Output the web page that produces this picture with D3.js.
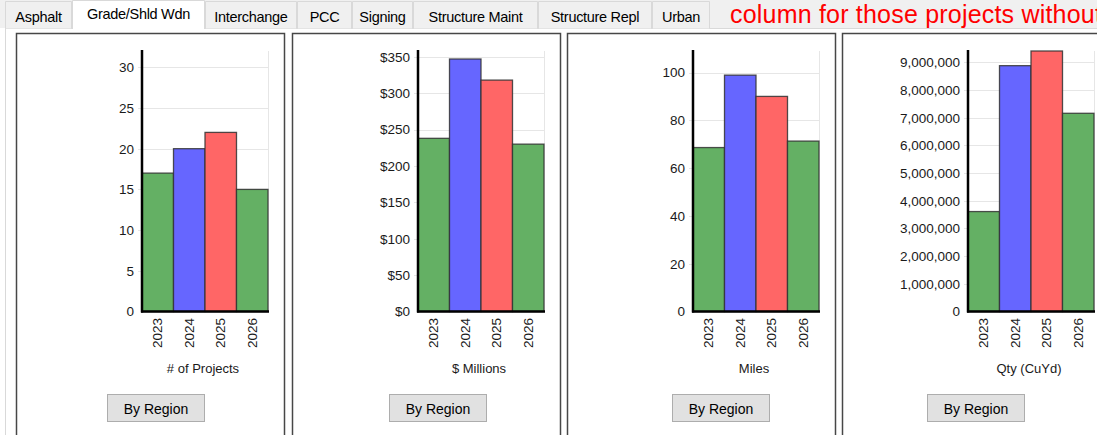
<!DOCTYPE html>
<html>
<head>
<meta charset="utf-8">
<script src="https://cdn.jsdelivr.net/npm/d3@7"></script>
<style>
  body { margin: 0; background: #fff; overflow: hidden; }
  text { font-family: "Liberation Sans", Arial, sans-serif; }
</style>
</head>
<body>
<div id="chart"></div>
<script>
// tabs along the top
const tabNames = ["Asphalt", "Grade/Shld Wdn", "Interchange", "PCC", "Signing", "Structure Maint", "Structure Repl", "Urban"];
const tabEdges = [5, 72, 205, 297, 352, 413, 538, 652, 710];
const selectedTab = 1;
const noteText = "column for those projects without";

// chart data
const years = ["2023", "2024", "2025", "2026"];
const yearColors = ["#64b064", "#6666ff", "#ff6666", "#64b064"];
const projectCounts = [17, 20, 22, 15];
const dollarMillions = [238, 347, 318, 230];
const miles = [68.6, 98.9, 90, 71.3];
const qtyCuYd = [3610000, 8880000, 9410000, 7160000];

const axisTitles = ["# of Projects", "$ Millions", "Miles", "Qty (CuYd)"];
const yMaxes = [32, 358, 109, 9410000];
const tickSteps = [5, 50, 20, 1000000];
const tickFormats = [d3.format("d"), d => "$" + d, d3.format("d"), d3.format(",")];
const seriesList = [projectCounts, dollarMillions, miles, qtyCuYd];

const width = 1097, height = 435;

const svg = d3.select("#chart").append("svg")
    .attr("width", width)
    .attr("height", height);

// tab strip background
svg.append("rect")
    .attr("width", width).attr("height", 28)
    .attr("fill", "#f0f0f0");

// tab page
svg.append("rect")
    .attr("x", 5.5).attr("y", 28.5)
    .attr("width", width).attr("height", height)
    .attr("fill", "#fff")
    .attr("stroke", "#d9d9d9");

// tabs
tabNames.forEach((name, i) => {
    const x0 = tabEdges[i], x1 = tabEdges[i + 1];
    const sel = i === selectedTab;
    const g = svg.append("g");
    g.append("path")
        .attr("d", sel
            ? `M${x0 + 0.5},29 V0.5 H${x1 - 0.5} V29`
            : `M${x0 + 0.5},28.5 V1.5 H${x1 - 0.5} V28.5`)
        .attr("fill", sel ? "#fff" : "#f0f0f0")
        .attr("stroke", "#d9d9d9");
    g.append("text")
        .attr("x", (x0 + x1) / 2)
        .attr("y", sel ? 14 : 16.5)
        .attr("text-anchor", "middle")
        .attr("dominant-baseline", "central")
        .attr("font-family", "'Open Sans', sans-serif")
        .attr("font-size", 14.5)
        .attr("letter-spacing", -0.3)
        .attr("fill", "#000")
        .text(name);
});

svg.append("text")
    .attr("x", 730).attr("y", 23)
    .attr("font-family", "'Open Sans', sans-serif")
    .attr("font-size", 25)
    .attr("letter-spacing", 0.2)
    .attr("fill", "#ff0000")
    .text(noteText);

// panels
const panelLefts = [16, 292, 567, 842];
const panelWidth = 268;
const panelTop = 33.5;
const plotOffset = 126, plotWidth = 126;
const plotTop = 51, plotBottom = 311.5;
const buttonOffsets = [91, 97, 105, 85];

seriesList.forEach((values, i) => {
    const px = panelLefts[i];
    const g = svg.append("g");

    g.append("rect")
        .attr("x", px + 0.5).attr("y", panelTop)
        .attr("width", panelWidth).attr("height", 420)
        .attr("fill", "#fff")
        .attr("stroke", "#474747")
        .attr("stroke-width", 1.5);

    const x0 = px + plotOffset;
    const x = d3.scaleBand()
        .domain(years)
        .range([x0, x0 + plotWidth])
        .padding(0);

    const y = d3.scaleLinear()
        .domain([0, yMaxes[i]])
        .range([plotBottom, plotTop]);

    const ticks = d3.range(0, yMaxes[i] + 1e-9, tickSteps[i]);

    // grid
    g.selectAll(".grid")
        .data(ticks.slice(1))
        .join("line")
        .attr("x1", x0 - 4).attr("x2", x0 + plotWidth)
        .attr("y1", d => Math.round(y(d)) + 0.5)
        .attr("y2", d => Math.round(y(d)) + 0.5)
        .attr("stroke", "#e6e6e6");

    g.append("line")
        .attr("x1", x0 + plotWidth + 0.5).attr("x2", x0 + plotWidth + 0.5)
        .attr("y1", plotTop).attr("y2", plotBottom)
        .attr("stroke", "#e6e6e6");

    // bars
    g.selectAll(".bar")
        .data(values)
        .join("rect")
        .attr("x", (d, j) => x(years[j]))
        .attr("y", d => y(d))
        .attr("width", x.bandwidth())
        .attr("height", d => plotBottom - y(d))
        .attr("fill", (d, j) => yearColors[j])
        .attr("stroke", "#333")
        .attr("stroke-opacity", 0.85)
        .attr("stroke-width", 1.3);

    // y axis
    const yAxis = d3.axisLeft(y)
        .tickValues(ticks)
        .tickFormat(tickFormats[i])
        .tickSize(0)
        .tickPadding(8);

    const ya = g.append("g")
        .attr("transform", `translate(${x0},0)`)
        .call(yAxis);
    ya.select(".domain").remove();
    ya.selectAll("text")
        .attr("font-size", 13.5)
        .attr("fill", "#1a1a1a")
        .style("font-family", "'Liberation Sans', Arial, sans-serif");

    // x axis labels (rotated)
    g.selectAll(".xl")
        .data(years)
        .join("text")
        .attr("transform", d => `translate(${x(d) + x.bandwidth() / 2},318) rotate(-90)`)
        .attr("text-anchor", "end")
        .attr("dominant-baseline", "central")
        .attr("font-size", 13.5)
        .attr("fill", "#1a1a1a")
        .text(d => d);

    // axis lines
    g.append("line")
        .attr("x1", x0).attr("x2", x0)
        .attr("y1", plotTop - 1).attr("y2", plotBottom + 1)
        .attr("stroke", "#000").attr("stroke-width", 2.5);
    g.append("line")
        .attr("x1", x0 - 1).attr("x2", x0 + plotWidth + 1)
        .attr("y1", plotBottom).attr("y2", plotBottom)
        .attr("stroke", "#000").attr("stroke-width", 2.5);

    g.append("text")
        .attr("x", x0 + plotWidth / 2 - 2)
        .attr("y", 368)
        .attr("text-anchor", "middle")
        .attr("dominant-baseline", "central")
        .attr("font-size", 13)
        .attr("fill", "#1a1a1a")
        .text(axisTitles[i]);

    // button
    const bx = px + buttonOffsets[i];
    g.append("rect")
        .attr("x", bx + 0.5).attr("y", 394.5)
        .attr("width", 97).attr("height", 27)
        .attr("fill", "#e1e1e1")
        .attr("stroke", "#adadad");
    g.append("text")
        .attr("x", bx + 49).attr("y", 408.5)
        .attr("text-anchor", "middle")
        .attr("dominant-baseline", "central")
        .attr("font-size", 14)
        .attr("fill", "#000")
        .text("By Region");
});
</script>
</body>
</html>
